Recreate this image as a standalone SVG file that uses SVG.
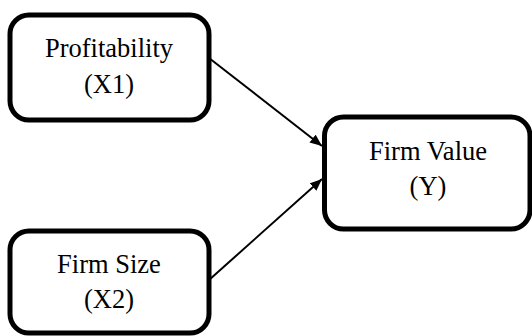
<svg xmlns="http://www.w3.org/2000/svg" width="532" height="336" viewBox="0 0 532 336">
<style>
.box{fill:#fff;stroke:#000;stroke-width:5}
.c{stroke:#000;stroke-width:2;fill:none}
</style>
<defs>
<marker id="ah" viewBox="0 0 12 10" refX="12" refY="5" markerWidth="12" markerHeight="10" markerUnits="userSpaceOnUse" orient="auto">
<path d="M0,0 L12,5 L0,10 z" fill="#000"/>
</marker>
</defs>
<rect width="532" height="336" fill="#fff"/>
<g id="connectors">
<line class="c" x1="209" y1="58" x2="322" y2="146" marker-end="url(#ah)"/>
<line class="c" x1="209" y1="280" x2="322" y2="179" marker-end="url(#ah)"/>
</g>
<g font-family="'Liberation Serif', 'Times New Roman', Times, serif" font-size="26.5" fill="#000" text-anchor="middle">
<g id="profitability">
<rect class="box" x="10" y="15" width="199" height="105" rx="19"/>
<text x="109" y="57">Profitability</text>
<text x="109" y="93">(X1)</text>
</g>
<g id="firmsize">
<rect class="box" x="10" y="231" width="199" height="102" rx="19"/>
<text x="109" y="273">Firm Size</text>
<text x="109" y="308">(X2)</text>
</g>
<g id="firmvalue">
<rect class="box" x="324.5" y="117" width="205.5" height="112" rx="19"/>
<text x="428" y="160">Firm Value</text>
<text x="428" y="195">(Y)</text>
</g>
</g>
</svg>
